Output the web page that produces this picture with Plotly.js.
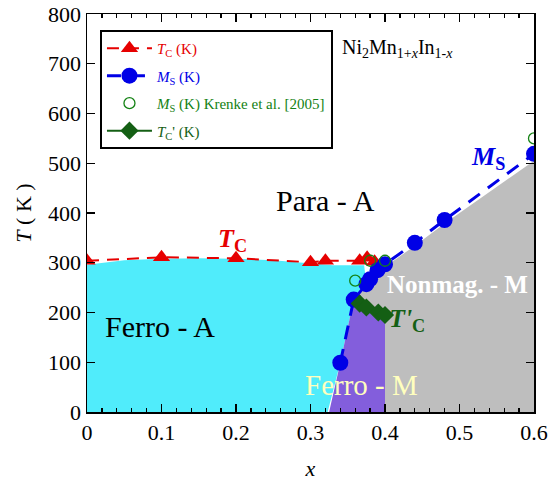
<!DOCTYPE html>
<html><head><meta charset="utf-8">
<script src="https://cdn.plot.ly/plotly-3.0.1.min.js"></script>
<style>body{margin:0;padding:0;background:#fff}#plot{width:549px;height:483px}</style>
</head><body><div id="plot"></div>
<script>
// Tc (red triangles)
const tcX = [0, 0.1, 0.2, 0.3, 0.32, 0.366, 0.376, 0.386];
const tcT = [304, 311, 309, 301, 304, 304, 310, 302];
// Ms (blue circles)
const msX = [0.34, 0.358, 0.375, 0.38, 0.39, 0.40, 0.44, 0.48, 0.60];
const msT = [99, 226, 257, 267, 285, 297, 340, 386, 519];
// Ms Krenke et al. (open green circles)
const krX = [0.36, 0.38, 0.40, 0.60];
const krT = [264, 304, 304, 550];
// Tc' (green diamonds)
const tcpX = [0.366, 0.375, 0.391, 0.40];
const tcpT = [218, 210, 200, 195];
// Phase region boundaries
const ferroAX = [0, 0, 0.05, 0.1, 0.15, 0.2, 0.25, 0.3, 0.33, 0.372, 0.375, 0.358, 0.34, 0.323];
const ferroAT = [0, 296, 305, 308, 309, 308, 305, 299, 295, 295, 257, 226, 99, 0];
const ferroMX = [0.325, 0.34, 0.358, 0.366, 0.375, 0.391, 0.40, 0.40];
const ferroMT = [0, 99, 226, 218, 210, 200, 195, 0];
const nonmagX = [0.40, 0.40, 0.391, 0.375, 0.366, 0.358, 0.375, 0.38, 0.39, 0.40, 0.44, 0.48, 0.60, 0.60];
const nonmagT = [0, 195, 200, 210, 218, 226, 254, 264, 281, 292, 334, 379, 505, 0];
// Axis ticks
const xTicks = [0, 0.1, 0.2, 0.3, 0.4, 0.5, 0.6];
const xTickText = ['0', '0.1', '0.2', '0.3', '0.4', '0.5', '0.6'];

const serif = '"Times New Roman", "Liberation Serif", serif';
const traces = [
  {x: ferroAX, y: ferroAT, fill: 'toself', fillcolor: 'rgb(80,236,251)', mode: 'lines', line: {width: 0}, showlegend: false, hoverinfo: 'skip'},
  {x: ferroMX, y: ferroMT, fill: 'toself', fillcolor: 'rgb(131,94,220)', mode: 'lines', line: {width: 0}, showlegend: false, hoverinfo: 'skip'},
  {x: nonmagX, y: nonmagT, fill: 'toself', fillcolor: 'rgb(190,190,190)', mode: 'lines', line: {width: 0}, showlegend: false, hoverinfo: 'skip'},
  {x: tcX, y: tcT, name: '<i>T</i><sub>C</sub> (K)', mode: 'lines+markers', legendgroup: 'a',
   line: {color: 'rgb(230,0,0)', width: 2, dash: '12px,8px'}, marker: {symbol: 'triangle-up', size: 15, color: 'rgb(230,0,0)'}},
  {x: msX, y: msT, name: '<i>M</i><sub>S</sub> (K)', mode: 'lines+markers', legendgroup: 'b',
   line: {color: 'rgb(0,0,230)', width: 3, dash: '14px,10px'}, marker: {symbol: 'circle', size: 16, color: 'rgb(0,0,230)'}},
  {x: krX, y: krT, name: '<i>M</i><sub>S</sub> (K) Krenke et al. [2005]', mode: 'markers', legendgroup: 'c',
   marker: {symbol: 'circle-open', size: 11, color: 'rgb(20,130,20)', line: {width: 1.3}}},
  {x: tcpX, y: tcpT, name: "<i>T</i><sub>C</sub>' (K)", mode: 'lines+markers', legendgroup: 'd',
   line: {color: 'rgb(20,95,20)', width: 2}, marker: {symbol: 'diamond', size: 14, color: 'rgb(20,95,20)'}}
];

const ann = (x, y, text, size, color, extra) => Object.assign({x, y, xref: 'x', yref: 'y', text, showarrow: false,
  font: {family: serif, size, color}}, extra || {});

const layout = {
  width: 549, height: 483,
  margin: {l: 87, r: 15, t: 14, b: 71},
  paper_bgcolor: '#fff', plot_bgcolor: '#fff',
  font: {family: serif, color: '#000'},
  xaxis: {range: [0, 0.6], tickvals: xTicks, ticktext: xTickText, ticks: 'inside', ticklen: 8, tickwidth: 1.3, tickcolor: '#000',
    showline: true, linecolor: '#000', linewidth: 1.5, mirror: 'ticks', showgrid: false, zeroline: false,
    tickfont: {family: serif, size: 22},
    minor: {dtick: 0.02, tick0: 0, ticks: 'inside', ticklen: 4, tickcolor: '#000', showgrid: false},
    title: {text: '<i>x</i>', font: {family: serif, size: 22}, standoff: 16}},
  yaxis: {range: [0, 800], dtick: 100, ticks: 'inside', ticklen: 8, tickwidth: 1.3, tickcolor: '#000',
    showline: true, linecolor: '#000', linewidth: 1.5, mirror: 'ticks', showgrid: false, zeroline: false,
    tickfont: {family: serif, size: 22},
    title: {text: '<i>T</i> ( K )', font: {family: serif, size: 22}, standoff: 10}},
  legend: {x: 0.029, y: 0.96, xanchor: 'left', yanchor: 'top', bgcolor: '#fff', bordercolor: '#000', borderwidth: 2,
    font: {family: serif, size: 15}, tracegroupgap: 5, traceorder: 'grouped', itemwidth: 45},
  annotations: [
    ann(0.32, 426, 'Para - A', 30, '#000'),
    ann(0.098, 171, 'Ferro - A', 30, '#000'),
    ann(0.369, 54, 'Ferro - M', 29, 'rgb(255,255,190)'),
    ann(0.497, 257, '<b>Nonmag. - M</b>', 25, '#fff'),
    ann(0.195, 346, '<b><i>T</i><sub>C</sub></b>', 26, 'rgb(230,0,0)'),
    ann(0.538, 510, '<b><i>M</i><sub>S</sub></b>', 26, 'rgb(0,0,230)'),
    ann(0.43, 185, "<b><i>T'</i><sub>C</sub></b>", 26, 'rgb(20,95,20)'),
    ann(0.417, 730, 'Ni<sub>2</sub>Mn<sub>1+<i>x</i></sub>In<sub>1-<i>x</i></sub>', 20, '#000')
  ]
};
// legend text colours
const legendColors = ['rgb(230,0,0)', 'rgb(0,0,230)', 'rgb(20,130,20)', 'rgb(20,95,20)'];
Plotly.newPlot('plot', traces, layout, {staticPlot: true}).then(gd => {
  gd.querySelectorAll('.legend .traces .legendtext').forEach((t, i) => { t.style.fill = legendColors[i]; });
});
</script></body></html>
